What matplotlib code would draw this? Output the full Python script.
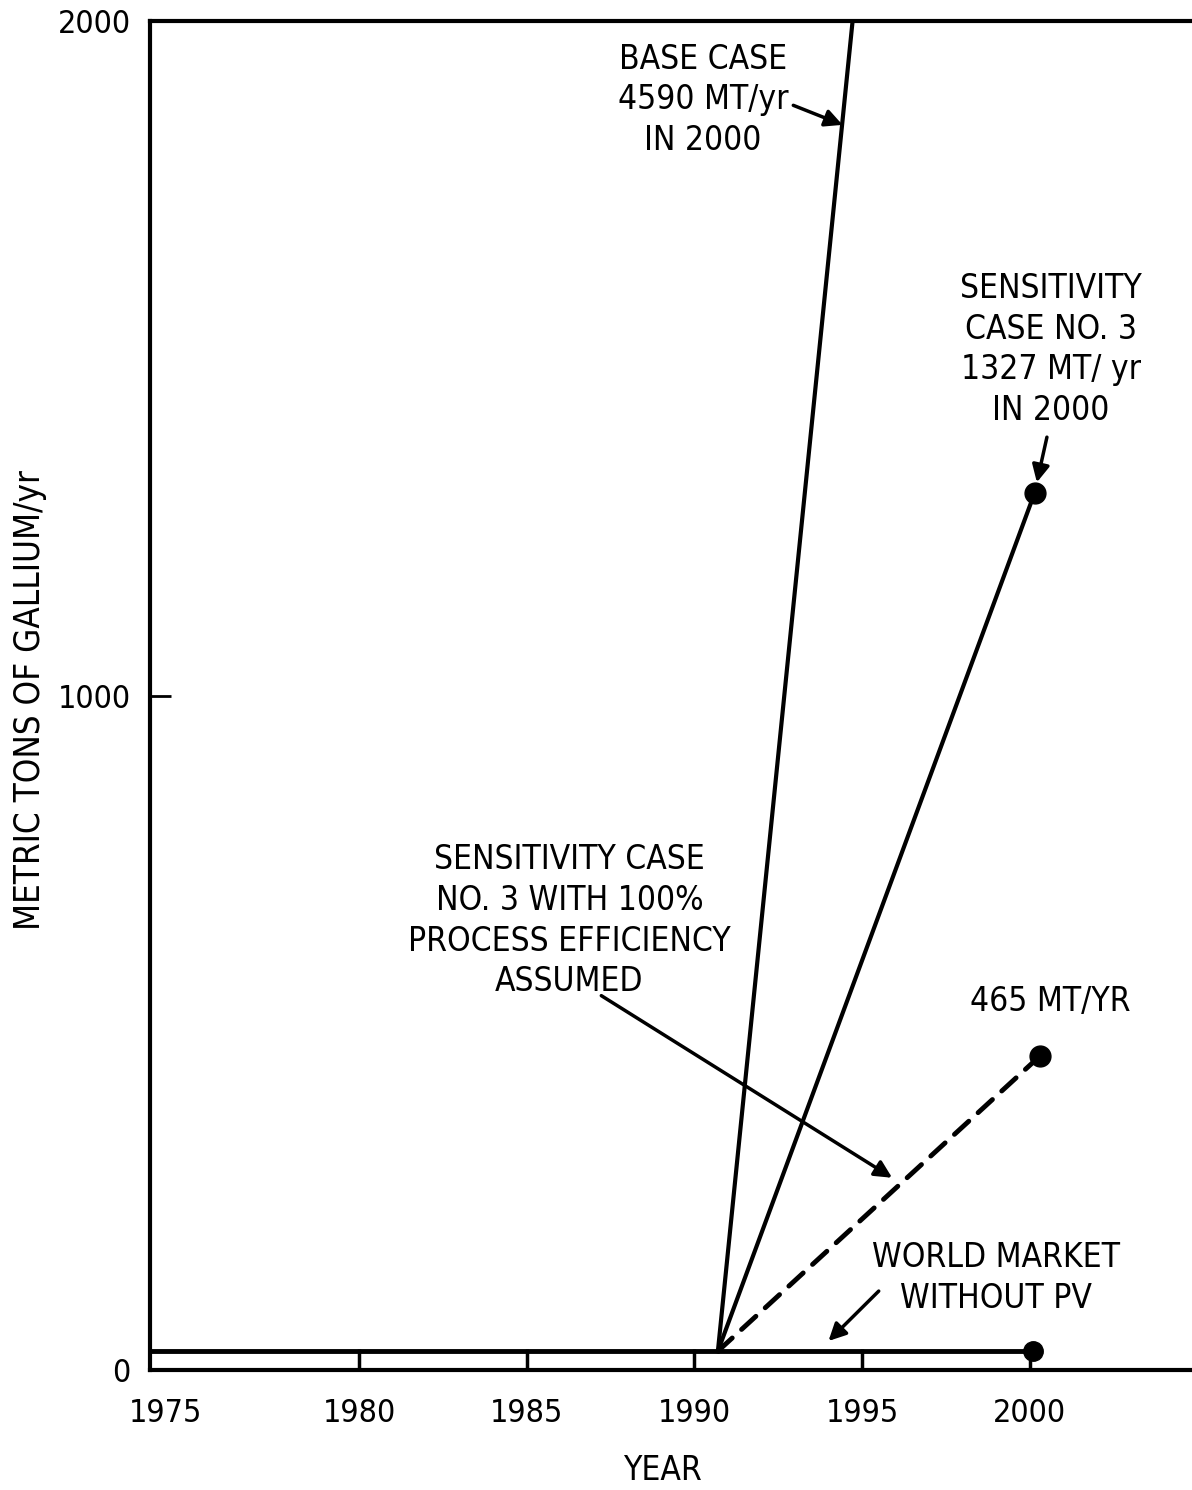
import matplotlib
matplotlib.use("Agg")
import matplotlib.pyplot as plt

# ---- data ----
x_left, x_right = 1973.75, 2004.85
world_years = [1973.75, 2000.1]
world_vals = [28, 28]
base_years = [1990.7, 2000.0]
base_vals = [28, 4590]
case3_years = [1990.7, 2000.15]
case3_vals = [28, 1300]
eff_years = [1990.7, 2000.3]
eff_vals = [28, 465]
xtick_pos = [1974.2, 1980, 1985, 1990, 1995, 2000]
xtick_labels = ["1975", "1980", "1985", "1990", "1995", "2000"]
ytick_pos = [0, 1000, 2000]
ytick_labels = ["0", "1000", "2000"]

FONT = ["Liberation Sans Narrow", "DejaVu Sans"]
plt.rcParams["font.family"] = FONT
plt.rcParams["font.stretch"] = "condensed"

fig = plt.figure(figsize=(11.92, 14.90), dpi=100)
ax = fig.add_axes([150 / 1192, 120 / 1490, 1 - 150 / 1192, (1370 - 21) / 1490])
ax.set_xlim(x_left, x_right)
ax.set_ylim(0, 2000)

for side in ["left", "bottom", "top"]:
    ax.spines[side].set_linewidth(3)
ax.spines["right"].set_visible(False)

ax.plot(world_years, world_vals, color="black", lw=3.5, solid_capstyle="butt")
ax.plot(base_years, base_vals, color="black", lw=3)
ax.plot(case3_years, case3_vals, color="black", lw=3)
ax.plot(eff_years, eff_vals, color="black", lw=3.5, linestyle=(0, (4, 2.6)),
        dash_capstyle="round")
ax.plot([world_years[-1]], [world_vals[-1]], "o", color="black", ms=14)
ax.plot([case3_years[-1]], [case3_vals[-1]], "o", color="black", ms=15)
ax.plot([eff_years[-1]], [eff_vals[-1]], "o", color="black", ms=15)

ax.set_xticks(xtick_pos)
ax.set_xticklabels(xtick_labels)
ax.set_yticks(ytick_pos)
ax.set_yticklabels(ytick_labels)
ax.tick_params(axis="x", direction="in", length=15, width=2.5, labelsize=23, pad=20)
ax.tick_params(axis="y", direction="in", length=15, width=2, labelsize=23, pad=14)
ax.xaxis.get_major_ticks()[0].tick1line.set_visible(False)
ax.yaxis.get_major_ticks()[0].tick1line.set_visible(False)
ax.yaxis.get_major_ticks()[2].tick1line.set_visible(False)

fig.text(662 / 1192, 1 - 1470 / 1490, "YEAR", fontsize=24, ha="center", va="center")
fig.text(30 / 1192, 1 - 700 / 1490, "METRIC TONS OF GALLIUM/yr", rotation=90,
         fontsize=25, ha="center", va="center")

ts = 24
ls = 1.3
arrow = dict(arrowstyle="-|>", lw=2.5, color="black", mutation_scale=26,
             shrinkA=0, shrinkB=0)

ax.text(1990.25, 1883, "BASE CASE\n4590 MT/yr\nIN 2000", fontsize=ts,
        ha="center", va="center", linespacing=ls)
ax.annotate("", xy=(1994.42, 1846), xytext=(1992.95, 1875), arrowprops=arrow)

ax.text(2000.64, 1513, "SENSITIVITY\nCASE NO. 3\n1327 MT/ yr\nIN 2000",
        fontsize=ts, ha="center", va="center", linespacing=ls)
ax.annotate("", xy=(2000.22, 1316), xytext=(2000.52, 1383), arrowprops=arrow)

ax.text(2000.63, 547, "465 MT/YR", fontsize=ts, ha="center", va="center")

ax.text(1986.27, 666, "SENSITIVITY CASE\nNO. 3 WITH 100%\nPROCESS EFFICIENCY\nASSUMED",
        fontsize=ts, ha="center", va="center", linespacing=ls)
ax.annotate("", xy=(1995.9, 285), xytext=(1987.22, 555), arrowprops=arrow)

ax.text(1999.0, 136, "WORLD MARKET\nWITHOUT PV", fontsize=ts,
        ha="center", va="center", linespacing=ls)
ax.annotate("", xy=(1994.0, 43), xytext=(1995.5, 117), arrowprops=arrow)

fig.savefig("out.png", dpi=100)
